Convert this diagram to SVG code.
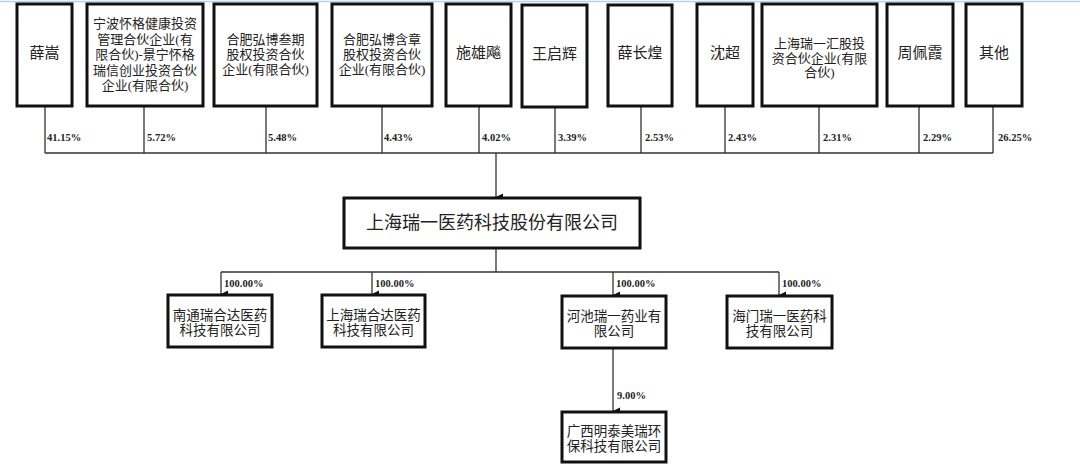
<svg xmlns="http://www.w3.org/2000/svg" width="1080" height="474" viewBox="0 0 1080 474">
<style>
.box{fill:#fff;stroke:#111;stroke-width:3}
.t{font-family:"Liberation Serif","Noto Sans CJK SC",serif;fill:#222;text-anchor:middle}
.s13{font-size:13px}
.s15{font-size:15px}
.s14{font-size:13.5px}
.s18{font-size:18px}
.pct{font-family:"Liberation Serif","Noto Sans CJK SC",serif;font-size:10.5px;font-weight:bold;fill:#222}
.ln{fill:none;stroke:#333;stroke-width:1.3}
</style>
<defs>
<marker id="arr" markerWidth="8" markerHeight="8" refX="4" refY="7" orient="auto" markerUnits="userSpaceOnUse">
<path d="M0.5,0 L7.5,0 L4,7 Z" fill="#111"/>
</marker>
</defs>
<rect width="1080" height="474" fill="#fff"/>
<line x1="0" y1="1.5" x2="1080" y2="1.5" stroke="#b8cde8" stroke-width="1.5"/>
<g id="connectors">
<path class="ln" d="M45,106V153M144,106V153M266,106V153M382,106V153M479,106V153M555,107V153M641,106V153M725,106V153M819,106V153M919,106V153M993,106V153M45,153H993"/>
<path class="ln" d="M496,153V197" marker-end="url(#arr)"/>
<path class="ln" d="M496,249V272M221,272H779"/>
<path class="ln" d="M221,272V294" marker-end="url(#arr)"/>
<path class="ln" d="M372,272V294" marker-end="url(#arr)"/>
<path class="ln" d="M613,272V295" marker-end="url(#arr)"/>
<path class="ln" d="M779,272V295" marker-end="url(#arr)"/>
<path class="ln" d="M613,349V411" marker-end="url(#arr)"/>
<text class="pct" x="47" y="141">41.15%</text>
<text class="pct" x="147" y="141">5.72%</text>
<text class="pct" x="268" y="141">5.48%</text>
<text class="pct" x="384" y="141">4.43%</text>
<text class="pct" x="482" y="141">4.02%</text>
<text class="pct" x="558" y="141">3.39%</text>
<text class="pct" x="645" y="141">2.53%</text>
<text class="pct" x="728" y="141">2.43%</text>
<text class="pct" x="823" y="141">2.31%</text>
<text class="pct" x="923" y="141">2.29%</text>
<text class="pct" x="998" y="141">26.25%</text>
<text class="pct" x="224" y="287">100.00%</text>
<text class="pct" x="375" y="287">100.00%</text>
<text class="pct" x="616" y="287">100.00%</text>
<text class="pct" x="782" y="287">100.00%</text>
<text class="pct" x="617" y="399">9.00%</text>
</g>
<g id="n1"><rect class="box" x="17" y="4" width="55" height="102"/><text class="t s15" x="44.5" y="58">薛嵩</text></g>
<g id="n2"><rect class="box" x="87" y="4" width="116" height="102"/>
<text class="t s13" x="145"><tspan x="145" y="28">宁波怀格健康投资</tspan><tspan x="145" y="43.5">管理合伙企业(有</tspan><tspan x="145" y="59">限合伙)-景宁怀格</tspan><tspan x="145" y="74.5">瑞信创业投资合伙</tspan><tspan x="145" y="90">企业(有限合伙)</tspan></text></g>
<g id="n3"><rect class="box" x="214" y="4" width="103" height="102"/>
<text class="t s13" x="265.5"><tspan x="265.5" y="44">合肥弘博叁期</tspan><tspan x="265.5" y="59">股权投资合伙</tspan><tspan x="265.5" y="74">企业(有限合伙)</tspan></text></g>
<g id="n4"><rect class="box" x="332" y="4" width="100" height="102"/>
<text class="t s13" x="382"><tspan x="382" y="44">合肥弘博含章</tspan><tspan x="382" y="59">股权投资合伙</tspan><tspan x="382" y="74">企业(有限合伙)</tspan></text></g>
<g id="n5"><rect class="box" x="446" y="4" width="65" height="102"/><text class="t s15" x="478.5" y="58">施雄飚</text></g>
<g id="n6"><rect class="box" x="522" y="5" width="65" height="102"/><text class="t s15" x="554.5" y="59">王启辉</text></g>
<g id="n7"><rect class="box" x="608" y="5" width="64" height="101"/><text class="t s15" x="640" y="58">薛长煌</text></g>
<g id="n8"><rect class="box" x="697" y="4" width="56" height="102"/><text class="t s15" x="725" y="58">沈超</text></g>
<g id="n9"><rect class="box" x="762" y="4" width="115" height="102"/>
<text class="t s13" x="819.5"><tspan x="819.5" y="48">上海瑞一汇股投</tspan><tspan x="819.5" y="62.5">资合伙企业(有限</tspan><tspan x="819.5" y="77">合伙)</tspan></text></g>
<g id="n10"><rect class="box" x="887" y="4" width="66" height="102"/><text class="t s15" x="920" y="58">周佩霞</text></g>
<g id="n11"><rect class="box" x="966" y="4" width="56" height="102"/><text class="t s15" x="994" y="58">其他</text></g>
<g id="main"><rect class="box" x="344" y="198" width="296" height="50"/><text class="t s18" x="492" y="229">上海瑞一医药科技股份有限公司</text></g>
<g id="c1"><rect class="box" x="168" y="295" width="104" height="52"/>
<text class="t s14" x="220"><tspan x="220" y="320">南通瑞合达医药</tspan><tspan x="220" y="335">科技有限公司</tspan></text></g>
<g id="c2"><rect class="box" x="322" y="295" width="103" height="52"/>
<text class="t s14" x="373.5"><tspan x="373.5" y="320">上海瑞合达医药</tspan><tspan x="373.5" y="335">科技有限公司</tspan></text></g>
<g id="c3"><rect class="box" x="562" y="296" width="104" height="52"/>
<text class="t s14" x="614"><tspan x="614" y="321">河池瑞一药业有</tspan><tspan x="614" y="336">限公司</tspan></text></g>
<g id="c4"><rect class="box" x="727" y="296" width="105" height="52"/>
<text class="t s14" x="779.5"><tspan x="779.5" y="321">海门瑞一医药科</tspan><tspan x="779.5" y="336">技有限公司</tspan></text></g>
<g id="c5"><rect class="box" x="562" y="412" width="104" height="50"/>
<text class="t s14" x="614"><tspan x="614" y="436">广西明泰美瑞环</tspan><tspan x="614" y="451">保科技有限公司</tspan></text></g>
</svg>
